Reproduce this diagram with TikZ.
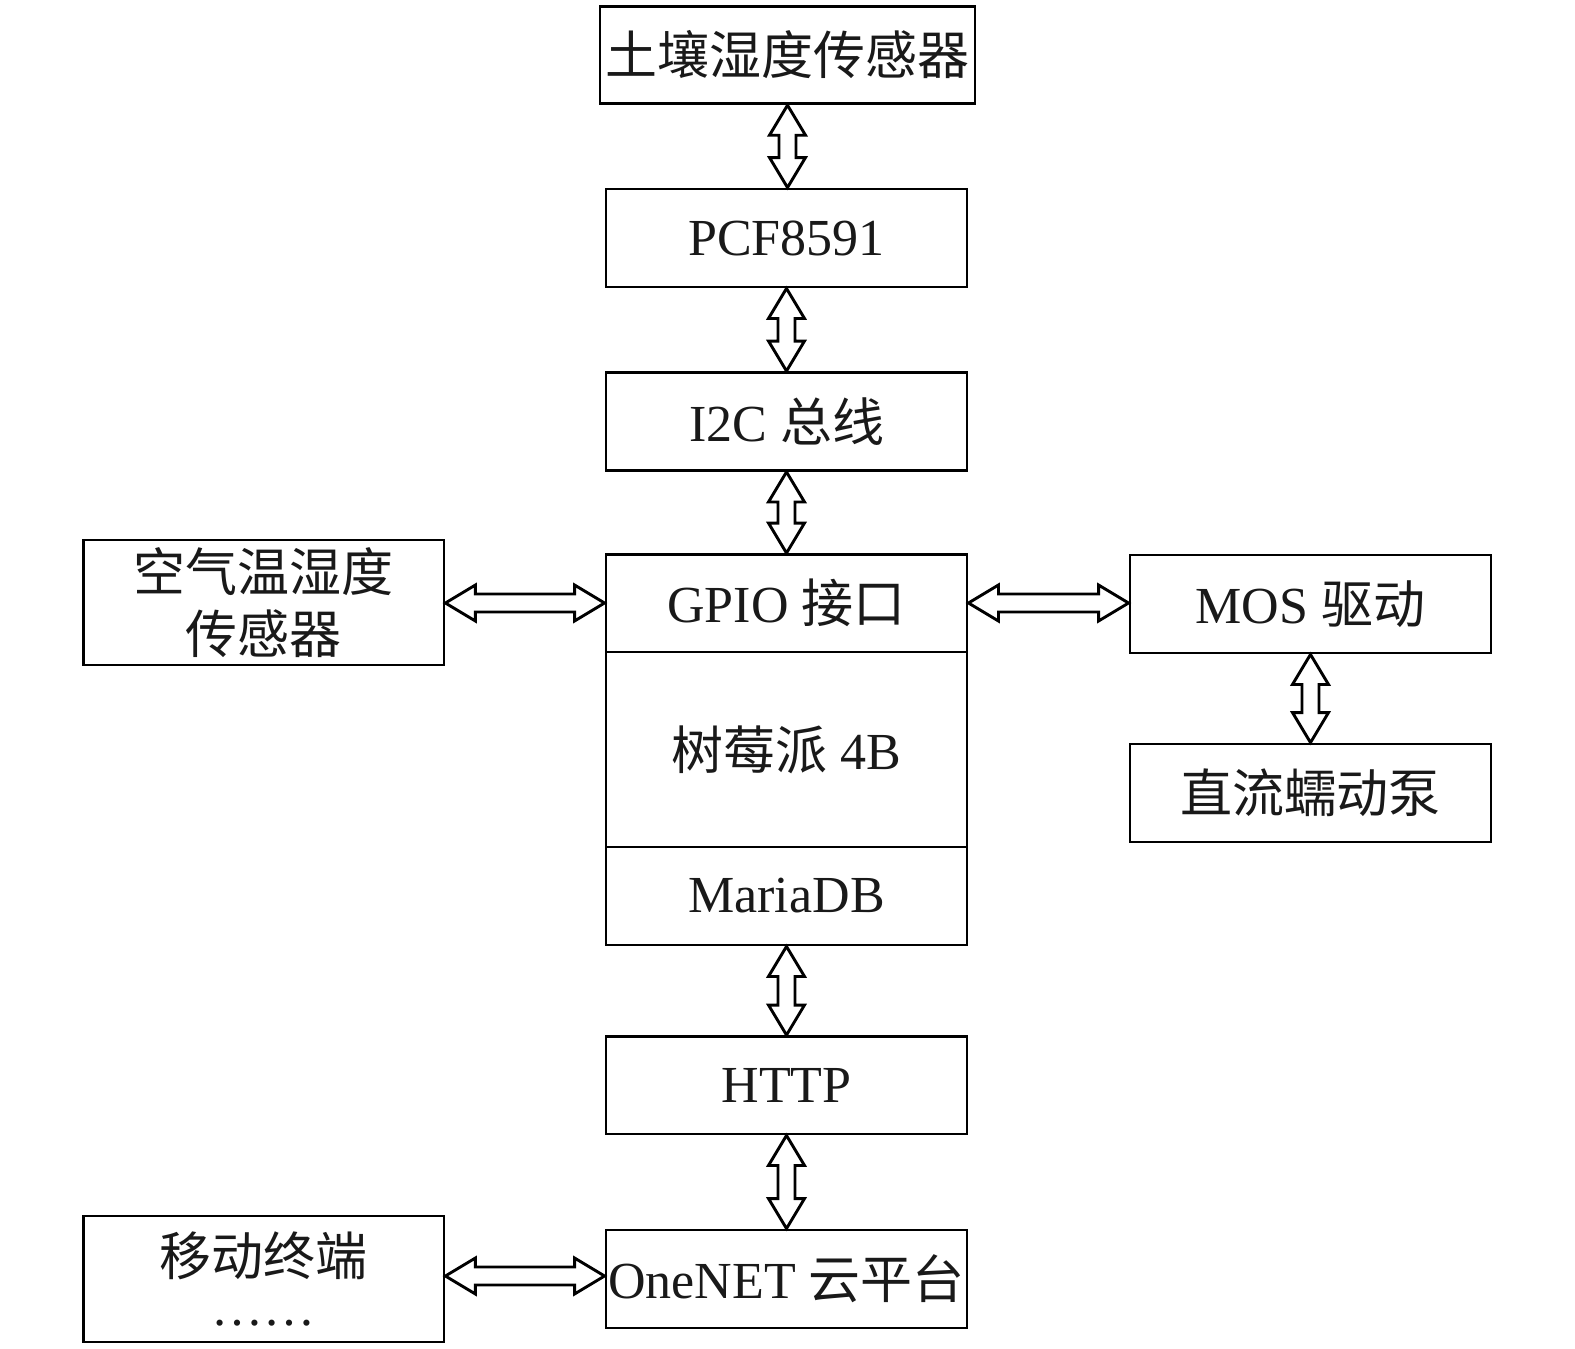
\documentclass[tikz,border=0pt]{standalone}
\usepackage{fontspec}
\setmainfont{Liberation Serif}
\newfontfamily\cjk{Noto Sans CJK SC}
\usetikzlibrary{calc}
\tikzset{
  box/.style={draw=black, line width=2.9pt, minimum width=361pt, minimum height=98pt, inner sep=0pt, align=center,
    font=\fontsize{52}{62}\selectfont, text=black!90},
  blk/.style={draw=black, line width=2.9pt, fill=white, line join=miter},
}
\newcommand\varrow[2]{%
  \draw[blk] let \p1=(#1.south), \p2=(#2.north) in
  (\x1,\y1) -- (\x1+18pt,\y1-30pt) -- (\x1+8.5pt,\y1-30pt) -- (\x1+8.5pt,\y2+30pt) -- (\x1+18pt,\y2+30pt)
  -- (\x1,\y2) -- (\x1-18pt,\y2+30pt) -- (\x1-8.5pt,\y2+30pt) -- (\x1-8.5pt,\y1-30pt) -- (\x1-18pt,\y1-30pt) -- cycle;}
\newcommand\harrow[3]{% left node, right node, y
  \draw[blk] let \p1=(#1.east), \p2=(#2.west), \p3=(0,#3) in
  (\x1,\y3) -- (\x1+30pt,\y3+18pt) -- (\x1+30pt,\y3+9pt) -- (\x2-30pt,\y3+9pt) -- (\x2-30pt,\y3+18pt)
  -- (\x2,\y3) -- (\x2-30pt,\y3-18pt) -- (\x2-30pt,\y3-9pt) -- (\x1+30pt,\y3-9pt) -- (\x1+30pt,\y3-18pt) -- cycle;}
\begin{document}
\begin{tikzpicture}[x=1pt,y=-1pt]
\useasboundingbox (0,0) rectangle (1575,1349);
\node[box, minimum width=375pt, minimum height=97.5pt] (soil) at (787.5,55) {\cjk 土壤湿度传感器};
\node[box] (pcf) at (786.5,238) {PCF8591};
\node[box] (i2c) at (786.5,421.5) {I2C {\cjk 总线}};
\node[box, minimum height=97.5pt] (gpio) at (786.5,603.25) {GPIO {\cjk 接口}};
\node[box, minimum height=195pt] (rpi) at (786.5,749.5) {{\cjk 树莓派} 4B};
\node[box] (maria) at (786.5,896) {MariaDB};
\node[box, minimum height=97.5pt] (http) at (786.5,1085.25) {HTTP};
\node[box] (onenet) at (786.5,1279) {OneNET {\cjk 云平台}};
\node[box, minimum width=360.5pt, minimum height=125pt, font=\fontsize{52}{62}\selectfont\cjk] (air) at (263.7,602.5) {空气温湿度\\传感器};
\node[box, minimum width=360.5pt, minimum height=126pt, font=\fontsize{52}{64}\selectfont] (mobile) at (263.7,1279) {{\cjk 移动终端}\\[-14pt]……};
\node[box] (mos) at (1310.5,604) {MOS {\cjk 驱动}};
\node[box] (pump) at (1310.5,793) {\cjk 直流蠕动泵};
\varrow{soil}{pcf}
\varrow{pcf}{i2c}
\varrow{i2c}{gpio}
\varrow{maria}{http}
\varrow{http}{onenet}
\varrow{mos}{pump}
\harrow{air}{gpio}{603}
\harrow{gpio}{mos}{603}
\harrow{mobile}{onenet}{1276}
\end{tikzpicture}
\end{document}
